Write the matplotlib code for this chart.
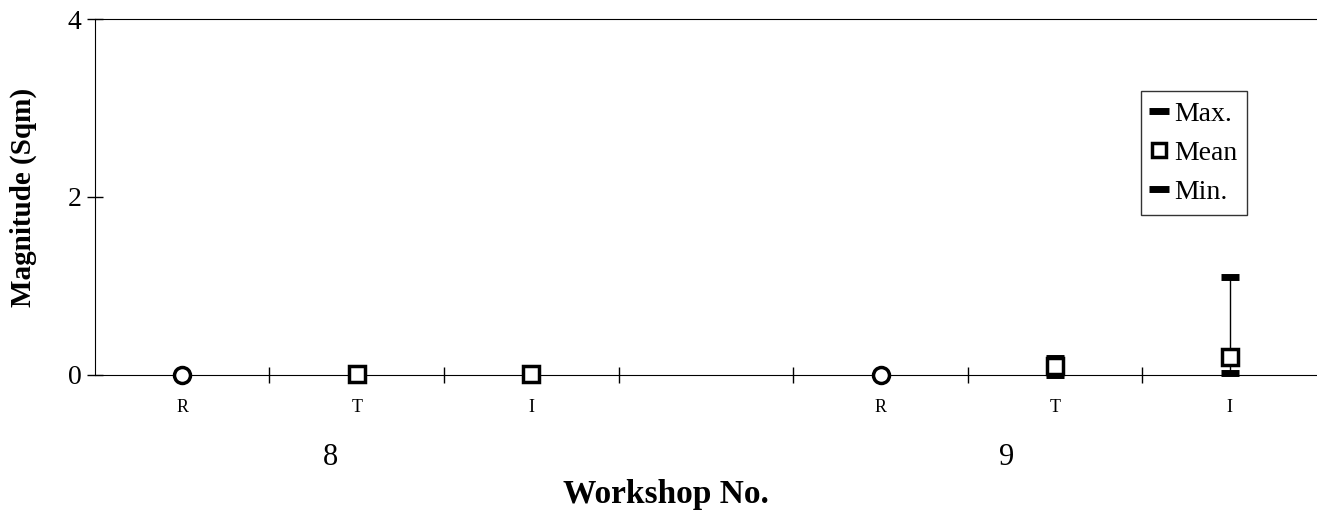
import matplotlib.pyplot as plt
from matplotlib.lines import Line2D

plt.rcParams['font.family'] = ['Liberation Serif', 'DejaVu Serif']

# categories (one empty slot separates the two workshops)
categories = ['R', 'T', 'I', '', 'R', 'T', 'I']
workshops = ['8', '9']
# R points (circles)
r_pos = [0, 4]
r_vals = [0.0, 0.0]
# T / I points with range
ti_pos = [1, 2, 5, 6]
ti_mean = [0.01, 0.01, 0.1, 0.2]
ti_max = [0.01, 0.02, 0.19, 1.1]
ti_min = [0.01, 0.0, 0.0, 0.02]

fig = plt.figure(figsize=(13.17, 5.17), dpi=100)
ax = fig.add_axes([0.072, 0.275, 0.928, 0.688])

ax.vlines(ti_pos, ti_min, ti_max, color='black', linewidth=1)
ax.plot(ti_pos, ti_max, linestyle='none', marker='_', markersize=13,
        markeredgewidth=5, color='black', clip_on=False, zorder=4)
ax.plot(ti_pos, ti_min, linestyle='none', marker='_', markersize=13,
        markeredgewidth=5, color='black', clip_on=False, zorder=4)
ax.plot(ti_pos, ti_mean, linestyle='none', marker='s', markersize=11,
        markerfacecolor='white', markeredgecolor='black', markeredgewidth=2.5,
        clip_on=False, zorder=5)
ax.plot(r_pos, r_vals, linestyle='none', marker='o', markersize=11.5,
        markerfacecolor='white', markeredgecolor='black', markeredgewidth=2.5,
        clip_on=False, zorder=5)

ax.set_xlim(-0.5, len(categories) - 0.5)
ax.set_ylim(0, 4)
ax.set_yticks([0, 2, 4])
ax.tick_params(axis='y', direction='inout', length=12, labelsize=20, width=1)
ax.set_xticks([i + 0.5 for i in range(len(categories) - 1)])
ax.set_xticklabels([])
ax.tick_params(axis='x', direction='inout', length=12, width=1)
for i, c in enumerate(categories):
    ax.text(i, -0.37, c, ha='center', va='center', fontsize=13)
for x, w in zip([0.85, 4.72], workshops):
    ax.text(x, -0.93, w, ha='center', va='center', fontsize=22)

ax.spines['right'].set_visible(False)
ax.set_ylabel('Magnitude (Sqm)', fontsize=21, fontweight='bold', labelpad=22)
ax.text(2.77, -1.35, 'Workshop No.', ha='center', va='center', fontsize=24,
        fontweight='bold')

handles = [
    Line2D([], [], linestyle='none', marker='_', markersize=14,
           markeredgewidth=5, color='black'),
    Line2D([], [], linestyle='none', marker='s', markersize=10,
           markerfacecolor='white', markeredgecolor='black', markeredgewidth=2.5),
    Line2D([], [], linestyle='none', marker='_', markersize=14,
           markeredgewidth=5, color='black'),
]
leg = ax.legend(handles, ['Max.', 'Mean', 'Min.'], loc='upper left',
                bbox_to_anchor=(0.856, 0.797), fontsize=20, frameon=True,
                fancybox=False, edgecolor='black', handlelength=0.6,
                handletextpad=0.25, borderpad=0.35, labelspacing=0.5,
                borderaxespad=0)
leg.get_frame().set_linewidth(1)

fig.savefig('out.png', dpi=100)
